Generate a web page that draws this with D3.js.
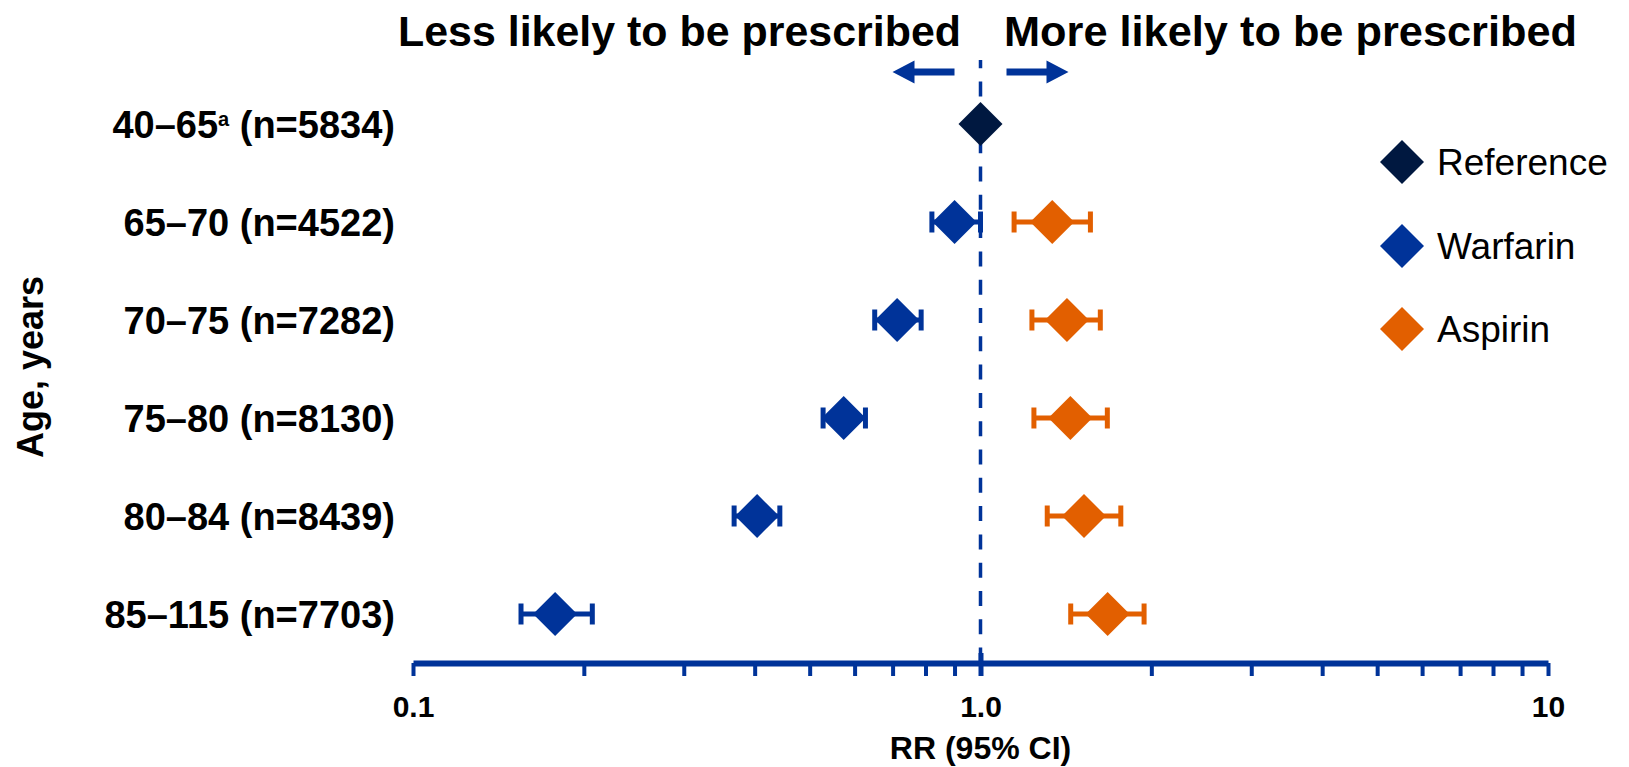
<!DOCTYPE html>
<html>
<head>
<meta charset="utf-8">
<script src="https://cdn.jsdelivr.net/npm/d3@7"></script>
<style>
  html, body { margin: 0; padding: 0; background: #fff; }
  svg { display: block; font-family: "Liberation Sans", Arial, sans-serif; }
</style>
</head>
<body>
<svg id="chart" width="1629" height="767"></svg>
<script>
// Age groups and cohort sizes
const ageGroups   = ["40–65", "65–70", "70–75", "75–80", "80–84", "85–115"];
const groupNote   = ["a", "", "", "", "", ""];
const sampleSizes = [5834, 4522, 7282, 8130, 8439, 7703];

// Relative risk of prescription (95% CI) by age group
const referenceRR = [1.0, null, null, null, null, null];
const warfarinRR  = [null, 0.90, 0.713, 0.574, 0.404, 0.178];
const warfarinLo  = [null, 0.821, 0.651, 0.528, 0.368, 0.155];
const warfarinHi  = [null, 1.00, 0.786, 0.627, 0.443, 0.207];
const aspirinRR   = [null, 1.338, 1.42, 1.44, 1.522, 1.675];
const aspirinLo   = [null, 1.146, 1.232, 1.242, 1.311, 1.442];
const aspirinHi   = [null, 1.562, 1.626, 1.673, 1.767, 1.942];

// Axis ticks
const tickValues = [0.1, 0.2, 0.3, 0.4, 0.5, 0.6, 0.7, 0.8, 0.9, 1, 2, 3, 4, 5, 6, 7, 8, 9, 10];
const tickLabels = { 0.1: "0.1", 1: "1.0", 10: "10" };

const seriesNames = ["Reference", "Warfarin", "Aspirin"];
const colors = { Reference: "#001840", Warfarin: "#003399", Aspirin: "#E25F00" };

const svg = d3.select("#chart");

const x = d3.scaleLog().domain([0.1, 10]).range([413, 1548]);
const y = d3.scalePoint().domain(ageGroups).range([124, 614]);
const axisY = 663;

// Reference line at RR = 1
svg.append("line")
  .attr("x1", x(1)).attr("x2", x(1))
  .attr("y1", 60).attr("y2", axisY)
  .attr("stroke", colors.Warfarin)
  .attr("stroke-width", 3.5)
  .attr("stroke-dasharray", "15 13.3")
  .attr("stroke-dashoffset", 6.7);

// X axis
const xAxis = d3.axisBottom(x)
  .tickValues(tickValues)
  .tickSize(13)
  .tickSizeOuter(0)
  .tickPadding(28)
  .tickFormat(d => tickLabels[d] || "");

const gx = svg.append("g")
  .attr("transform", `translate(0,${axisY})`)
  .call(xAxis);
gx.select(".domain").attr("stroke", colors.Warfarin).attr("stroke-width", 6);
gx.selectAll(".tick line").attr("stroke", colors.Warfarin).attr("stroke-width", 4);
// the RR = 1 tick also rises above the axis line
gx.selectAll(".tick").filter(d => d === 1).select("line")
  .attr("y1", -10).attr("stroke-width", 5);
gx.selectAll(".tick text")
  .attr("fill", "#000")
  .attr("font-size", 30)
  .attr("font-weight", "bold")
  .attr("dy", null)
  .attr("y", 716.5 - axisY);

svg.append("text")
  .attr("x", x(1)).attr("y", 759)
  .attr("text-anchor", "middle")
  .attr("font-size", 32)
  .attr("font-weight", "bold")
  .text("RR (95% CI)");

// Row labels
const rowLabel = svg.append("g")
  .selectAll("text")
  .data(ageGroups)
  .join("text")
  .attr("x", 395)
  .attr("y", d => y(d))
  .attr("dy", "0.36em")
  .attr("text-anchor", "end")
  .attr("font-size", 38)
  .attr("font-weight", "bold");
rowLabel.append("tspan").text(d => d);
rowLabel.filter((d, i) => groupNote[i] !== "")
  .append("tspan")
  .attr("font-size", 20)
  .attr("dy", -12)
  .text((d, i) => groupNote[i]);
rowLabel.append("tspan")
  .attr("dy", (d, i) => groupNote[i] !== "" ? 12 : null)
  .text((d, i) => " (n=" + sampleSizes[i] + ")");

// Y axis title
svg.append("text")
  .attr("transform", `translate(43,367) rotate(-90)`)
  .attr("text-anchor", "middle")
  .attr("font-size", 36)
  .attr("font-weight", "bold")
  .text("Age, years");

// Direction headings
svg.append("text")
  .attr("x", 398).attr("y", 46)
  .attr("font-size", 42).attr("font-weight", "bold")
  .attr("textLength", 563).attr("lengthAdjust", "spacingAndGlyphs")
  .text("Less likely to be prescribed");
svg.append("text")
  .attr("x", 1004).attr("y", 46)
  .attr("font-size", 42).attr("font-weight", "bold")
  .attr("textLength", 573).attr("lengthAdjust", "spacingAndGlyphs")
  .text("More likely to be prescribed");

// Direction arrows either side of RR = 1
const arrowY = 72;
function arrow(dir) {
  const base = x(1) + dir * 26;
  const neck = base + dir * 40;
  const tip = base + dir * 62;
  return `M${base},${arrowY - 3.5}L${neck},${arrowY - 3.5}L${neck},${arrowY - 11.5}` +
         `L${tip},${arrowY}L${neck},${arrowY + 11.5}L${neck},${arrowY + 3.5}L${base},${arrowY + 3.5}Z`;
}
svg.append("path").attr("d", arrow(-1)).attr("fill", colors.Warfarin);
svg.append("path").attr("d", arrow(1)).attr("fill", colors.Warfarin);

const half = 22;
function diamondPath(cx, cy, h) {
  return `M${cx},${cy - h}L${cx + h},${cy}L${cx},${cy + h}L${cx - h},${cy}Z`;
}

// Error bars and point estimates
function drawSeries(name, rr, lo, hi) {
  const rows = ageGroups.map((g, i) => ({ g, rr: rr[i], lo: lo ? lo[i] : null, hi: hi ? hi[i] : null }))
    .filter(d => d.rr != null);
  const g = svg.append("g").attr("class", name);
  const ci = rows.filter(d => d.lo != null);
  g.selectAll("line.ci").data(ci).join("line").attr("class", "ci")
    .attr("x1", d => x(d.lo)).attr("x2", d => x(d.hi))
    .attr("y1", d => y(d.g)).attr("y2", d => y(d.g))
    .attr("stroke", colors[name]).attr("stroke-width", 5);
  ["lo", "hi"].forEach(k => {
    g.selectAll("line.cap-" + k).data(ci).join("line").attr("class", "cap-" + k)
      .attr("x1", d => x(d[k])).attr("x2", d => x(d[k]))
      .attr("y1", d => y(d.g) - 10.5).attr("y2", d => y(d.g) + 10.5)
      .attr("stroke", colors[name]).attr("stroke-width", 5);
  });
  g.selectAll("path.pt").data(rows).join("path").attr("class", "pt")
    .attr("d", d => diamondPath(x(d.rr), y(d.g), half))
    .attr("fill", colors[name]);
}
drawSeries("Reference", referenceRR, null, null);
drawSeries("Warfarin", warfarinRR, warfarinLo, warfarinHi);
drawSeries("Aspirin", aspirinRR, aspirinLo, aspirinHi);

// Legend
const legendY = [162, 246, 329];
const legend = svg.append("g").selectAll("g")
  .data(seriesNames)
  .join("g")
  .attr("transform", (d, i) => `translate(1402,${legendY[i]})`);
legend.append("path")
  .attr("d", diamondPath(0, 0, half))
  .attr("fill", d => colors[d]);
legend.append("text")
  .attr("x", 35).attr("dy", "0.36em")
  .attr("font-size", 37)
  .text(d => d);
</script>
</body>
</html>
